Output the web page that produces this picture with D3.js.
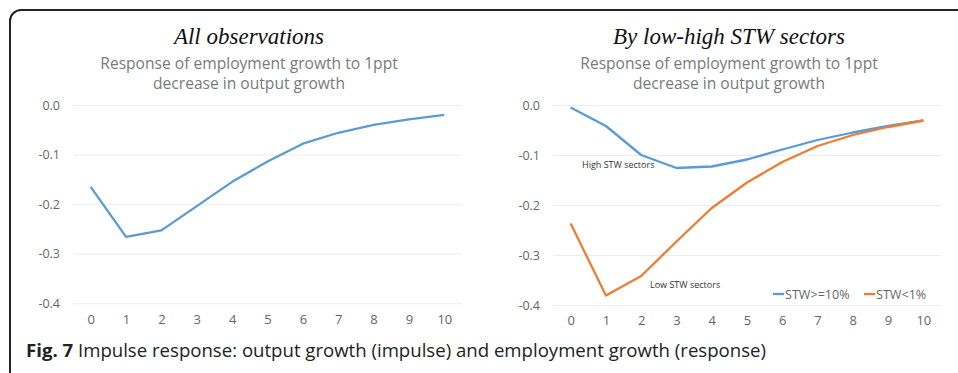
<!DOCTYPE html>
<html><head><meta charset="utf-8">
<script src="https://cdn.jsdelivr.net/npm/d3@7"></script>
<style>body{margin:0;background:#fff}svg{display:block}</style>
</head><body>
<svg id="c" width="958" height="373"></svg>
<script>
const periods = [0,1,2,3,4,5,6,7,8,9,10];
const yTicks = [0.0,-0.1,-0.2,-0.3,-0.4];
const allObs = [-0.165,-0.266,-0.253,-0.204,-0.155,-0.114,-0.078,-0.056,-0.040,-0.029,-0.020];
const highSTW = [-0.005,-0.042,-0.100,-0.126,-0.123,-0.109,-0.089,-0.070,-0.055,-0.042,-0.031];
const lowSTW  = [-0.237,-0.381,-0.342,-0.273,-0.206,-0.155,-0.114,-0.082,-0.060,-0.044,-0.031];
const titles = ["All observations","By low-high STW sectors"];
const subtitle = ["Response of employment growth to 1ppt","decrease in output growth"];
const legendLabels = ["STW>=10%","STW<1%"];
const caption = ["Fig. 7"," Impulse response: output growth (impulse) and employment growth (response)"];

const BLUE="#5b9bd5", ORANGE="#ed7d31";
const svg = d3.select("#c");
const SANS = "'Open Sans', sans-serif";

svg.append("rect").attr("x",10).attr("y",10).attr("width",980).attr("height",400)
  .attr("rx",11).attr("fill","none").attr("stroke","#222").attr("stroke-width",2);

function panel(opt){
  const g = svg.append("g");
  const x = d3.scalePoint().domain(periods).range([opt.x0,opt.x1]).padding(0.5);
  const y = d3.scaleLinear().domain([0,-0.4]).range([opt.y0,opt.y1]);
  g.append("text").attr("x",opt.tc).attr("y",43.5).attr("text-anchor","middle")
    .attr("font-family","'Liberation Serif', serif").attr("font-style","italic")
    .attr("font-size",23).attr("fill","#111").text(opt.title);
  subtitle.forEach((s,i)=>g.append("text").attr("x",opt.tc).attr("y",68.5+i*20)
    .attr("text-anchor","middle").attr("font-family",SANS).attr("font-size",15.6)
    .attr("fill","#7a7a7a").text(s));
  const ya = g.append("g").attr("transform",`translate(${opt.x0},0)`)
    .call(d3.axisLeft(y).tickValues(yTicks).tickSize(-(opt.x1-opt.x0)).tickFormat(d3.format(".1f")));
  ya.select(".domain").remove();
  ya.selectAll("line").attr("stroke","#ececec");
  ya.selectAll("text").attr("x",-13).attr("font-family",SANS).attr("font-size",12.5).attr("fill","#666")
    .text(d=>d===0?"0.0":d3.format(".1f")(d).replace("−","-"));
  const xa = g.append("g").attr("transform",`translate(0,${opt.y1})`)
    .call(d3.axisBottom(x).tickSize(0).tickPadding(11));
  xa.select(".domain").remove();
  xa.selectAll("text").attr("font-family",SANS).attr("font-size",13).attr("fill","#666");
  const line = d3.line().x((d,i)=>x(periods[i])).y(d=>y(d));
  opt.series.forEach(s=>g.append("path").datum(s.v).attr("d",line).attr("fill","none")
    .attr("stroke",s.c).attr("stroke-width",2.3).attr("stroke-linejoin","round"));
  return {g,x,y};
}

panel({x0:73,x1:462,y0:105,y1:303.3,tc:249,title:titles[0],series:[{v:allObs,c:BLUE}]});
const p2 = panel({x0:553,x1:941,y0:105,y1:305,tc:729,title:titles[1],
  series:[{v:highSTW,c:BLUE},{v:lowSTW,c:ORANGE}]});

p2.g.append("text").attr("x",582).attr("y",167.5).attr("font-family",SANS).attr("font-size",9)
  .attr("fill","#333").text("High STW sectors");
p2.g.append("text").attr("x",650).attr("y",287.5).attr("font-family",SANS).attr("font-size",9)
  .attr("fill","#333").text("Low STW sectors");

const leg = [{x:773,c:BLUE,t:legendLabels[0]},{x:864,c:ORANGE,t:legendLabels[1]}];
leg.forEach(l=>{
  p2.g.append("line").attr("x1",l.x).attr("x2",l.x+11).attr("y1",294).attr("y2",294)
    .attr("stroke",l.c).attr("stroke-width",2.3);
  p2.g.append("text").attr("x",l.x+12).attr("y",298.5).attr("font-family",SANS).attr("font-size",12.6)
    .attr("fill","#666").text(l.t);
});

const cap = svg.append("text").attr("x",26).attr("y",357).attr("font-family",SANS)
  .attr("font-size",18.6).attr("fill","#222");
cap.append("tspan").attr("font-weight","bold").text(caption[0]);
cap.append("tspan").text(caption[1]);
</script>
</body></html>
